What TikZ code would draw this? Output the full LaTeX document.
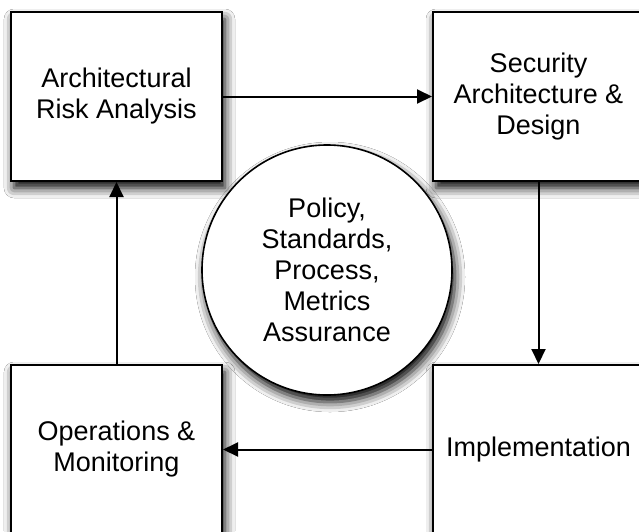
\documentclass[tikz,border=0pt]{standalone}
\usepackage{fontspec}
\setmainfont{Liberation Sans}
\usetikzlibrary{arrows.meta,shadows.blur}
\tikzset{
  phase/.style={draw,line width=2pt,fill=white,minimum width=211pt,minimum height=169pt,
    align=center,blur shadow={shadow xshift=3pt,shadow yshift=-7pt,shadow blur radius=10pt,shadow opacity=100}},
  core/.style={draw,circle,line width=1.6pt,fill=white,minimum size=250pt,inner sep=0pt,
    align=center,blur shadow={shadow xshift=3pt,shadow yshift=-7pt,shadow blur radius=10pt,shadow opacity=100}},
  flow/.style={line width=2pt,-{Triangle[length=15pt,width=14pt]}}
}
\begin{document}
\begin{tikzpicture}[x=1pt,y=-1pt,font=\fontsize{27}{31}\selectfont]
      \useasboundingbox[fill=white] (0,0) rectangle (639,531);
      % the four phases
      \node[phase] (ara)  at (116.5,96.5)  {Architectural\\Risk Analysis};
      \node[phase] (sad)  at (538.5,96.5)  {Security\\Architecture \&\\Design};
      \node[phase] (impl) at (538.5,449.5) {Implementation};
      \node[phase] (ops)  at (116.5,449.5) {Operations \&\\Monitoring};
      \node[core]  (pol)  at (327,270)     {Policy,\\Standards,\\Process,\\Metrics\\Assurance};

      \draw[flow] (ara.east)  -- (sad.west);
      \draw[flow] (sad.south) -- (impl.north);
      \draw[flow] (impl.west) -- (ops.east);
      \draw[flow] (ops.north) -- (ara.south);
    \end{tikzpicture}
\end{document}
